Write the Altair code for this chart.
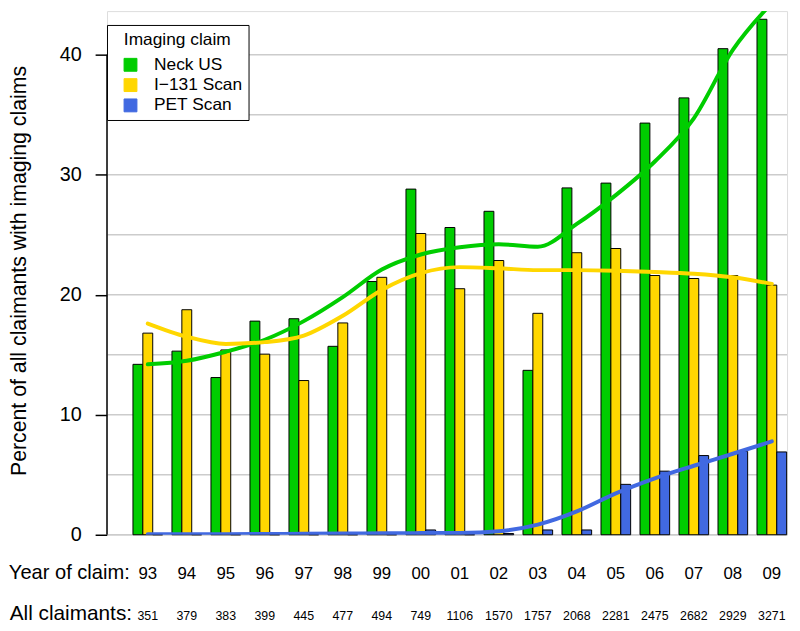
import altair as alt
import pandas as pd

# ---------------- data ----------------
years = ["93", "94", "95", "96", "97", "98", "99", "00", "01", "02",
         "03", "04", "05", "06", "07", "08", "09"]
claimants = [351, 379, 383, 399, 445, 477, 494, 749, 1106, 1570,
             1757, 2068, 2281, 2475, 2682, 2929, 3271]
series_names = ["Neck US", "I\u2212131 Scan", "PET Scan"]
series_colors = ["#00CD00", "#FFD700", "#4169E1"]

neck_us = [14.2, 15.3, 13.1, 17.8, 18.0, 15.7, 21.1, 28.8, 25.6, 26.95,
           13.7, 28.9, 29.3, 34.3, 36.4, 40.5, 42.95]
i131 = [16.8, 18.75, 15.4, 15.05, 12.85, 17.65, 21.45, 25.1, 20.5, 22.85,
        18.45, 23.5, 23.85, 21.6, 21.35, 21.6, 20.8]
pet = [0, 0, 0, 0, 0, 0, 0, 0.4, 0, 0.1,
       0.4, 0.4, 4.2, 5.3, 6.6, 6.95, 6.9]

neck_fit = [14.2, 14.5, 15.25, 16.25, 17.8, 19.8, 22.1, 23.35, 23.95, 24.2,
            24.0, 25.9, 28.3, 31.1, 34.7, 40.4, 44.3]
i131_fit = [17.6, 16.5, 15.9, 16.05, 16.6, 18.25, 20.4, 21.8, 22.3, 22.2,
            22.05, 22.05, 22.0, 21.9, 21.75, 21.45, 20.9]
pet_fit = [0.05, 0.05, 0.05, 0.06, 0.08, 0.1, 0.12, 0.14, 0.15, 0.3,
           0.85, 1.95, 3.45, 4.7, 5.75, 6.75, 7.78]

grid_values = [0, 5, 10, 15, 20, 25, 30, 35, 40]
tick_values = [0, 10, 20, 30, 40]
axis_span = [0, 40]
y_max = 43.63
row_labels = ["Year of claim:", "All claimants:"]

# ---------------- tables ----------------
bars_df = pd.DataFrame({
    "year": years * 3,
    "series": [s for s in series_names for _ in years],
    "value": neck_us + i131 + pet,
})
fit_df = pd.DataFrame({
    "year": years * 3,
    "series": [s for s in series_names for _ in years],
    "fit": neck_fit + i131_fit + pet_fit,
})
grid_df = pd.DataFrame({"v": grid_values})
axis_df = pd.DataFrame({"lo": [axis_span[0]], "hi": [axis_span[1]]})
rows_df = pd.DataFrame({"year": years, "n": [str(c) for c in claimants]})
lab1_df = pd.DataFrame({"label": [row_labels[0]]})
lab2_df = pd.DataFrame({"label": [row_labels[1]]})

W, H = 687, 529
FONT = "Liberation Sans"

x_scale = alt.Scale(domain=years, paddingInner=0.24, paddingOuter=0.338, align=0.985)
y_scale = alt.Scale(domain=[0, y_max], nice=False, zero=True)

y_axis = alt.Axis(
    values=tick_values, domain=False, grid=False,
    tickColor="black", tickWidth=1.5, tickSize=12,
    labelFont=FONT, labelFontSize=20, labelColor="black", labelPadding=14,
    title="Percent of all claimants with imaging claims",
    titleFont=FONT, titleFontSize=21.5, titleFontWeight="normal", titleColor="black",
    titleAngle=-90, titleX=-82, titleY=262, titleBaseline="alphabetic", titleAlign="center",
)

grid = alt.Chart(grid_df).mark_rule(color="#cccccc", strokeWidth=1.5).encode(
    y=alt.Y("v:Q", scale=y_scale, axis=y_axis)
)

axis_line = alt.Chart(axis_df).mark_rule(color="black", strokeWidth=1.5).encode(
    x=alt.value(0),
    y=alt.Y("lo:Q", scale=y_scale, axis=y_axis),
    y2="hi:Q",
)

legend = alt.Legend(
    title="Imaging claim", orient="none", legendX=0, legendY=14, direction="vertical",
    strokeColor="black", fillColor="white", padding=6,
    symbolType="square", symbolSize=169, symbolStrokeColor="black", symbolStrokeWidth=1,
    symbolOffset=9, labelOffset=15,
    labelFont=FONT, labelFontSize=17.5, labelColor="black",
    titleFont=FONT, titleFontSize=17.5, titleFontWeight="normal", titleColor="black",
    titleAnchor="middle", titlePadding=8, rowPadding=1.5,
)

bars = alt.Chart(bars_df).mark_bar(stroke="black", strokeWidth=1).encode(
    x=alt.X("year:N", scale=x_scale, axis=None),
    xOffset=alt.XOffset("series:N", sort=series_names,
                        scale=alt.Scale(domain=series_names, paddingInner=0, paddingOuter=0)),
    y=alt.Y("value:Q", scale=y_scale, axis=y_axis),
    fill=alt.Fill("series:N", scale=alt.Scale(domain=series_names, range=series_colors),
                  legend=legend),
)

lines = alt.Chart(fit_df).mark_line(strokeWidth=4, interpolate="monotone", clip=True,
                                    strokeCap="round").encode(
    x=alt.X("year:N", scale=x_scale, axis=None),
    y=alt.Y("fit:Q", scale=y_scale, axis=y_axis),
    stroke=alt.Stroke("series:N", scale=alt.Scale(domain=series_names, range=series_colors),
                      legend=None),
    detail="series:N",
)

year_text = alt.Chart(rows_df).mark_text(
    font=FONT, fontSize=17, baseline="alphabetic", color="black"
).encode(
    x=alt.X("year:N", scale=x_scale, axis=None),
    y=alt.value(H + 44.7),
    text="year:N",
)

count_text = alt.Chart(rows_df).mark_text(
    font=FONT, fontSize=12.5, baseline="alphabetic", color="black"
).encode(
    x=alt.X("year:N", scale=x_scale, axis=None),
    y=alt.value(H + 85.7),
    text="n:N",
)

lab1 = alt.Chart(lab1_df).mark_text(
    font=FONT, fontSize=20.3, baseline="alphabetic", align="right", color="black"
).encode(x=alt.value(23), y=alt.value(H + 44.7), text="label:N")

lab2 = alt.Chart(lab2_df).mark_text(
    font=FONT, fontSize=21, baseline="alphabetic", align="right", color="black"
).encode(x=alt.value(25.3), y=alt.value(H + 85.7), text="label:N")

chart = alt.layer(grid, bars, lines, axis_line, year_text, count_text, lab1, lab2).properties(
    width=W, height=H,
    padding={"left": 100, "top": 0, "right": 5, "bottom": 86},
    autosize=alt.AutoSizeParams(type="none"),
    background="white",
).configure_view(stroke=None).configure(font=FONT)

chart.save("out.html", embed_options={"renderer": "svg", "actions": False})
